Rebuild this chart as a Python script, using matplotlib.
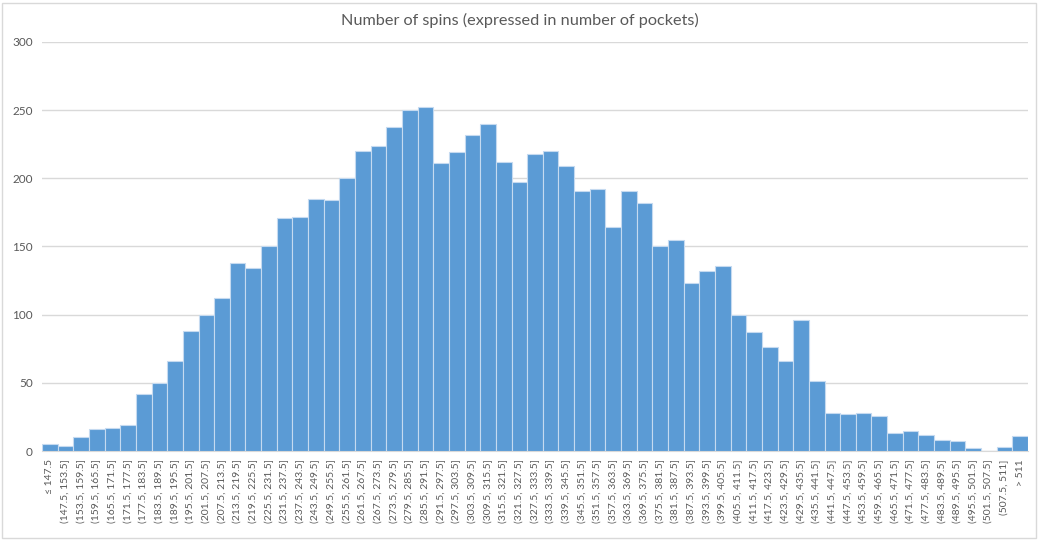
import matplotlib
matplotlib.use("Agg")
import matplotlib.pyplot as plt
from matplotlib.patches import Rectangle

plt.rcParams['font.family'] = ['Lato', 'DejaVu Sans']

categories = (["≤ 147.5"]
              + ["(%.1f, %.1f]" % (147.5 + 6 * i, 153.5 + 6 * i) for i in range(60)]
              + ["(507.5, 511]", "> 511"])

counts = [5, 4, 10, 16, 17, 19, 42, 50, 66, 88,
          100, 112, 138, 134, 150, 171, 172, 185, 184, 200,
          220, 224, 238, 250, 252, 211, 219, 232, 240, 212,
          197, 218, 220, 209, 191, 192, 164, 191, 182, 150,
          155, 123, 132, 136, 100, 87, 76, 66, 96, 51,
          28, 27, 28, 26, 13, 15, 12, 8, 7, 2,
          0, 3, 11]

yticks = [0, 50, 100, 150, 200, 250, 300]
title = "Number of spins (expressed in number of pockets)"

W, H = 1039, 540
fig = plt.figure(figsize=(W / 100, H / 100), dpi=100)
ax = fig.add_axes([42 / W, 1 - 451 / H, (1028 - 42) / W, (451 - 42) / H])

x = list(range(len(categories)))
ax.bar(x, counts, width=1.0, color='#5B9BD5', edgecolor='#C5DAF0', linewidth=0.8, zorder=3)

ax.set_xlim(-0.5, len(categories) - 0.5)
ax.set_ylim(0, 300)
ax.set_yticks(yticks)
ax.set_xticks(x)
ax.set_xticklabels(categories, rotation=90, fontsize=7.5, color='#595959')
ax.tick_params(axis='y', labelsize=8.5, labelcolor='#595959', length=0, pad=6.5)
ax.tick_params(axis='x', length=0, pad=6)
ax.grid(axis='y', color='#D9D9D9', linewidth=1, zorder=0)
for s in ['top', 'right', 'left']:
    ax.spines[s].set_visible(False)
ax.spines['bottom'].set_color('#D9D9D9')

fig.text(0.5, 1 - 20 / H, title, ha='center', va='center', fontsize=11.7, color='#595959')

fig.patches.append(Rectangle((2 / W, 2 / H), (W - 5) / W, (H - 5) / H, transform=fig.transFigure,
                             fill=False, edgecolor='#D9D9D9', linewidth=1))

fig.savefig('out.png', dpi=100)
